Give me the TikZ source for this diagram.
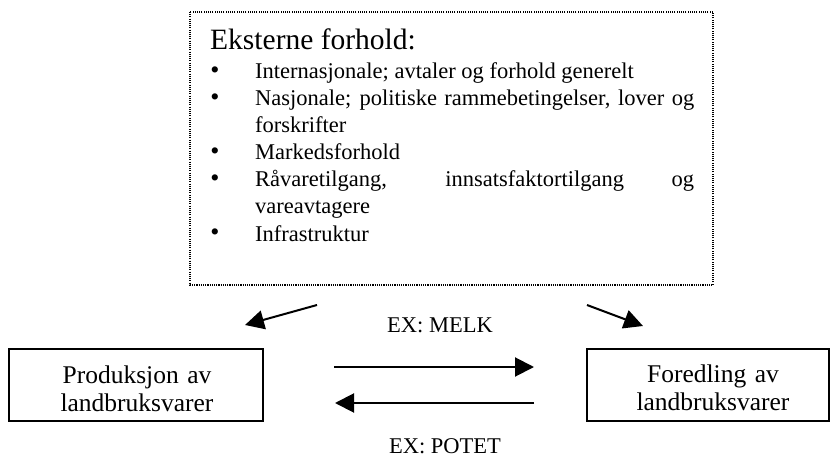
\documentclass[tikz,border=0pt]{standalone}
\usepackage{fontspec}
\setmainfont{Liberation Serif}
\usetikzlibrary{arrows.meta}
\tikzset{
  bodytext/.style={font=\fontsize{22.5}{27}\selectfont},
  boxtext/.style={font=\fontsize{25.5}{28}\selectfont, align=center, text width=250pt, anchor=base, inner sep=0pt},
  itemtext/.style={bodytext, anchor=base west, text width=439pt, align=justify, inner sep=0pt},
  bulletmark/.style={font=\fontsize{26}{26}\selectfont, anchor=center, inner sep=0pt},
  solidbox/.style={draw, line width=1.6pt},
  dotbox/.style={draw, line width=1.3pt, dash pattern=on 1.1pt off 1.1pt},
  flow/.style={line width=2pt, -{Triangle[length=19pt,width=19pt]}},
}
\begin{document}
\begin{tikzpicture}[x=1pt,y=-1pt]
\useasboundingbox (0,0) rectangle (830,457);
% external box
\draw[dotbox] (190,12) rectangle (713,285);
\node[font=\fontsize{29.5}{34}\selectfont, anchor=base west, inner sep=0pt] (title) at (210,50) {Eksterne forhold:};
\node[bulletmark] (b1) at (215,73) {\textbullet};
\node[itemtext] (i1) at (255,79) {Internasjonale; avtaler og forhold generelt};
\node[bulletmark] (b2) at (215,100) {\textbullet};
\node[itemtext] (i2) at (255,106) {Nasjonale; politiske rammebetingelser, lover og\linebreak forskrifter};
\node[bulletmark] (b3) at (215,154) {\textbullet};
\node[itemtext] (i3) at (255,160) {Markedsforhold};
\node[bulletmark] (b4) at (215,181) {\textbullet};
\node[itemtext] (i4) at (255,187) {Råvaretilgang, innsatsfaktortilgang og\linebreak vareavtagere};
\node[bulletmark] (b5) at (215,235) {\textbullet};
\node[itemtext] (i5) at (255,241) {Infrastruktur};
% lower boxes
\draw[solidbox] (9,349) rectangle (263,421);
\node[boxtext] (prod) at (137,383) {Produksjon av\\landbruksvarer};
\draw[solidbox] (587,349) rectangle (829,421);
\node[boxtext] (fored) at (713,382) {Foredling av\\landbruksvarer};
% arrows
\coordinate (dl1) at (317,305);
\coordinate (dl2) at (245,325);
\coordinate (dr1) at (587,305);
\coordinate (dr2) at (643,326);
\draw[flow] (dl1) -- (dl2);
\draw[flow] (dr1) -- (dr2);
\coordinate (r1) at (334,367);
\coordinate (r2) at (534,367);
\coordinate (l1) at (534,403);
\coordinate (l2) at (335,403);
\draw[flow] (r1) -- (r2);
\draw[flow] (l1) -- (l2);
\node[bodytext, anchor=base, inner sep=0pt] (melk) at (440,332) {EX: MELK};
\node[bodytext, anchor=base, inner sep=0pt] (potet) at (445,453) {EX: POTET};
\end{tikzpicture}
\end{document}
